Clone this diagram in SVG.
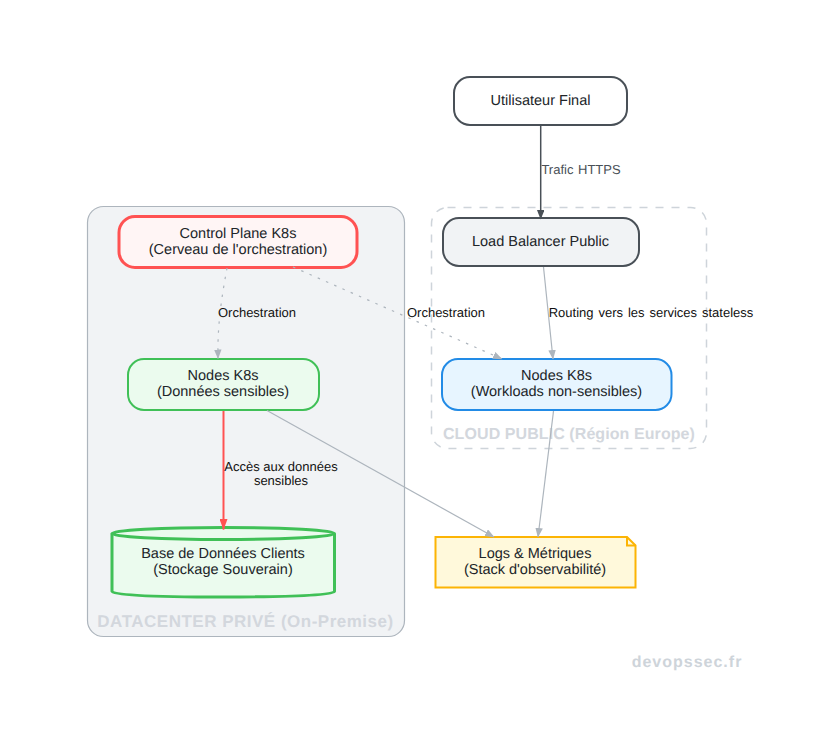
<svg xmlns="http://www.w3.org/2000/svg" width="831" height="754" viewBox="0 0 831 754">
<style>
text{font-family:"Liberation Sans",Arial,sans-serif;text-anchor:middle;text-rendering:geometricPrecision}
.n{font-size:14.5px;fill:#212529}
.e{font-size:13px;fill:#111;word-spacing:1px}
.c{font-weight:bold;fill:#d3d7dd}
.a{fill:none;stroke:#adb5bd;stroke-width:1.2}
.d{stroke-dasharray:2.500 6.500}
</style>
<defs>
<marker id="mg" markerUnits="userSpaceOnUse" markerWidth="10" markerHeight="8" refX="9" refY="3.750" orient="auto"><path d="M0 0L9.500 3.750L0 7.500z" fill="#adb5bd"/></marker>
<marker id="md" markerUnits="userSpaceOnUse" markerWidth="10" markerHeight="8" refX="9" refY="3.750" orient="auto"><path d="M0 0L9.500 3.750L0 7.500z" fill="#495057"/></marker>
<marker id="mr" markerUnits="userSpaceOnUse" markerWidth="11" markerHeight="8" refX="10.500" refY="4" orient="auto"><path d="M0 0L11 4L0 8z" fill="#ff5252"/></marker>
</defs>
<rect width="831" height="754" fill="#fff"/>
<g id="cluster-datacenter">
<rect x="87.500" y="206.500" width="317" height="430" rx="16" fill="#f1f3f5" stroke="#adb5bd" stroke-width="1.2"/>
<text class="c" x="245.500" y="627" style="font-size:17px;letter-spacing:.5px">DATACENTER PRIVÉ (On-Premise)</text>
</g>
<g id="cluster-cloud">
<rect x="431.500" y="207.500" width="275" height="241" rx="16" fill="none" stroke="#ced4da" stroke-width="1.5" stroke-dasharray="8 8"/>
<text class="c" x="569" y="439" style="font-size:16px;letter-spacing:.08px">CLOUD PUBLIC (Région Europe)</text>
</g>
<g id="user"><rect x="454" y="77" width="173" height="48" rx="16" fill="#fff" stroke="#495057" stroke-width="2"/><text class="n" x="540.500" y="104.500">Utilisateur Final</text></g>
<g id="lb"><rect x="443" y="218" width="196" height="48" rx="16" fill="#f1f3f5" stroke="#495057" stroke-width="2"/><text class="n" x="540.500" y="245.500">Load Balancer Public</text></g>
<g id="control-plane"><rect x="119" y="216.500" width="238" height="51" rx="16" fill="#fff5f5" stroke="#ff5252" stroke-width="3"/><text class="n" x="238" y="237.500">Control Plane K8s</text><text class="n" x="238" y="253.500">(Cerveau de l'orchestration)</text></g>
<g id="nodes-private"><rect x="128" y="359" width="191" height="51" rx="16" fill="#ebfbee" stroke="#40c057" stroke-width="2"/><text class="n" x="223" y="380">Nodes K8s</text><text class="n" x="223" y="396">(Données sensibles)</text></g>
<g id="nodes-public"><rect x="442" y="359" width="229.500" height="51" rx="16" fill="#e7f5ff" stroke="#228be6" stroke-width="2"/><text class="n" x="556.500" y="380">Nodes K8s</text><text class="n" x="556.500" y="396">(Workloads non-sensibles)</text></g>
<g id="database"><path d="M112 533.500V591.500C112 594.500 142 597 223 597S334.500 594.500 334.500 591.500V533.500" fill="#ebfbee" stroke="#40c057" stroke-width="3"/><ellipse cx="223.250" cy="533.500" rx="111.250" ry="6" fill="#ebfbee" stroke="#40c057" stroke-width="3"/><text class="n" x="223" y="558">Base de Données Clients</text><text class="n" x="223" y="574">(Stockage Souverain)</text></g>
<g id="logs"><path d="M435.500 537H627L635.500 545.500V587.500H435.500Z" fill="#fff9db" stroke="#fcb404" stroke-width="2"/><path d="M627 537V545.500H635.500" fill="none" stroke="#fcb404" stroke-width="2"/><text class="n" x="535" y="558">Logs &amp; Métriques</text><text class="n" x="535" y="574">(Stack d'observabilité)</text></g>
<g id="connectors">
<path class="a d" d="M227 268C224 285 217 320 218 358.500" marker-end="url(#mg)"/>
<path class="a d" d="M293 267L502 359" marker-end="url(#mg)"/>
<path class="a" d="M543.500 267L553 359" marker-end="url(#mg)"/>
<path class="a" d="M553.500 411L538 537" marker-end="url(#mg)"/>
<path class="a" d="M267 410.500L494 537" marker-end="url(#mg)"/>
<path d="M540.700 126V219" fill="none" stroke="#495057" stroke-width="1.5" marker-end="url(#md)"/>
<path d="M223.500 411V529.500" fill="none" stroke="#ff5252" stroke-width="2" marker-end="url(#mr)"/>
<text class="e" x="581" y="174" style="fill:#495057">Trafic HTTPS</text>
<text class="e" x="257" y="316.500">Orchestration</text>
<text class="e" x="446" y="316.500">Orchestration</text>
<text class="e" x="651" y="316.500" style="word-spacing:1.3px">Routing vers les services stateless</text>
<text class="e" x="281" y="470.500" style="word-spacing:0">Accès aux données</text>
<text class="e" x="281" y="485">sensibles</text>
</g>
<text x="687" y="667" style="font-size:16px;font-weight:bold;fill:#ced4da;letter-spacing:1px">devopssec.fr</text>
</svg>
